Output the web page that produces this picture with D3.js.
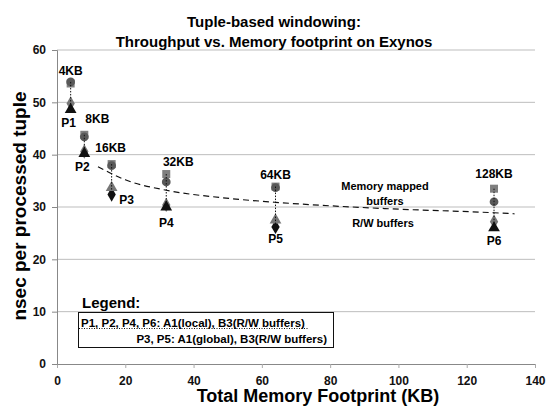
<!DOCTYPE html>
<html><head><meta charset="utf-8">
<script src="https://cdn.jsdelivr.net/npm/d3@7"></script>
<style>body{margin:0;background:#fff;overflow:hidden}text{font-family:Arial,"Liberation Sans",sans-serif;font-weight:bold}</style>
</head><body><svg id="c" width="547" height="406"></svg>
<script>
const footprints = [4, 8, 16, 32, 64, 128];
const sizeLabels = ["4KB", "8KB", "16KB", "32KB", "64KB", "128KB"];
const pointLabels = ["P1", "P2", "P3", "P4", "P5", "P6"];
const mmapSquare = [53.6, 43.8, 38.2, 36.3, 33.9, 33.5];
const mmapCircle = [53.9, 43.4, 37.9, 34.8, 33.7, 31.0];
const rwDiamond = [49.8, 40.6, 32.4, 30.4, 26.2, 27.2];
const rwTriangle = [48.6, 40.2, 33.7, 30.0, 27.5, 26.0];
const isGlobal = [false, false, true, false, true, false];
const trendX = [12, 20, 32, 48, 64, 96, 128, 134];
const trendY = [37.7, 35.2, 33.2, 31.8, 30.9, 29.7, 28.9, 28.7];
const xTicks = [0, 20, 40, 60, 80, 100, 120, 140];
const yTicks = [0, 10, 20, 30, 40, 50, 60];

const svg = d3.select("#c");
const x = d3.scaleLinear().domain([0, 140]).range([57, 535]);
const y = d3.scaleLinear().domain([0, 60]).range([364, 50]);

// gridlines
svg.append("g").selectAll("line").data(yTicks.filter(d => d > 0)).join("line")
  .attr("x1", 57).attr("x2", 535).attr("y1", d => y(d)).attr("y2", d => y(d))
  .attr("stroke", "#bdbdbd").attr("stroke-width", 1);

const xa = svg.append("g").attr("transform", "translate(0,364)")
  .call(d3.axisBottom(x).tickValues(xTicks).tickSize(4).tickPadding(8).tickFormat(d3.format("d")));
xa.select(".domain").attr("stroke", "#888");
xa.selectAll("line").attr("stroke", "#aaa");
xa.selectAll("text").attr("font-size", 12).attr("fill", "#111");

const ya = svg.append("g").attr("transform", "translate(57,0)")
  .call(d3.axisLeft(y).tickValues(yTicks).tickSize(5).tickPadding(6));
ya.select(".domain").attr("stroke", "#888");
ya.selectAll("line").attr("stroke", "#888");
ya.selectAll("text").attr("font-size", 12).attr("fill", "#111");

// title
svg.append("text").attr("x", 274).attr("y", 27).attr("text-anchor", "middle").attr("font-size", 15).text("Tuple-based windowing:");
svg.append("text").attr("x", 274).attr("y", 47).attr("text-anchor", "middle").attr("font-size", 15).text("Throughput vs. Memory footprint on Exynos");

// axis titles
svg.append("text").attr("x", 318).attr("y", 402).attr("text-anchor", "middle").attr("font-size", 18).text("Total Memory Footprint (KB)");
svg.append("text").attr("transform", "translate(26,206) rotate(-90)").attr("text-anchor", "middle").attr("font-size", 19).text("nsec per processed tuple");

// trend line
svg.append("path").datum(trendX.map((d, i) => [d, trendY[i]]))
  .attr("d", d3.line().x(d => x(d[0])).y(d => y(d[1])).curve(d3.curveMonotoneX))
  .attr("fill", "none").attr("stroke", "#111").attr("stroke-width", 1.2).attr("stroke-dasharray", "6,4");

const g = svg.append("g");
const sym = (t, s) => d3.symbol().type(t).size(s)();
footprints.forEach((f, i) => {
  const vals = [mmapSquare[i], mmapCircle[i], rwDiamond[i], rwTriangle[i]];
  const cx = x(f);
  g.append("path").attr("d", sym(d3.symbolSquare, 64)).attr("transform", `translate(${cx},${y(mmapSquare[i])})`).attr("fill", "#7f7f7f");
  g.append("path").attr("d", sym(d3.symbolCircle, 60)).attr("transform", `translate(${cx},${y(mmapCircle[i])})`).attr("fill", "#595959");
  g.append("path").attr("d", sym(d3.symbolDiamond, 60)).attr("transform", `translate(${cx},${y(rwDiamond[i])})`).attr("fill", isGlobal[i] ? "#111" : "#777");
  g.append("path").attr("d", sym(d3.symbolTriangle, 60)).attr("transform", `translate(${cx},${y(rwTriangle[i])})`).attr("fill", isGlobal[i] ? "#777" : "#111");
  g.append("line").attr("x1", cx).attr("x2", cx)
    .attr("y1", y(d3.max(vals))).attr("y2", y(d3.min(vals)))
    .attr("stroke", "#111").attr("stroke-width", 1).attr("stroke-dasharray", "1.5,1.5");
});

// size labels (above) and point labels (below)
const sizeOff = [[0, -11], [13, -16], [-1, -17], [12, -13], [0, -12], [0, -15]];
footprints.forEach((f, i) => {
  const top = d3.max([mmapSquare[i], mmapCircle[i]]);
  svg.append("text").attr("x", x(f) + sizeOff[i][0]).attr("y", y(top) + sizeOff[i][1] + 4.5)
    .attr("text-anchor", "middle").attr("font-size", 12).text(sizeLabels[i]);
});
const pOff = [[-2, 17], [-2, 17], [15, 10], [0, 20], [0, 16], [0, 17]];
footprints.forEach((f, i) => {
  const bot = d3.min([rwDiamond[i], rwTriangle[i]]);
  svg.append("text").attr("x", x(f) + pOff[i][0]).attr("y", y(bot) + pOff[i][1])
    .attr("text-anchor", "middle").attr("font-size", 12).text(pointLabels[i]);
});

// series annotations
svg.append("text").attr("x", 385).attr("y", 190).attr("text-anchor", "middle").attr("font-size", 11).text("Memory mapped");
svg.append("text").attr("x", 385).attr("y", 205).attr("text-anchor", "middle").attr("font-size", 11).text("buffers");
svg.append("text").attr("x", 383).attr("y", 227).attr("text-anchor", "middle").attr("font-size", 11).text("R/W buffers");

// legend
svg.append("text").attr("x", 82).attr("y", 308).attr("font-size", 15).text("Legend:");
svg.append("rect").attr("x", 78.5).attr("y", 312.5).attr("width", 255).attr("height", 35)
  .attr("fill", "#fff").attr("stroke", "#111").attr("stroke-width", 1);
svg.append("text").attr("x", 81).attr("y", 327).attr("font-size", 11.5).text("P1, P2, P4, P6: A1(local), B3(R/W buffers)");
svg.append("line").attr("x1", 79).attr("x2", 308).attr("y1", 328.5).attr("y2", 328.5)
  .attr("stroke", "#111").attr("stroke-dasharray", "1,1.5");
svg.append("text").attr("x", 327).attr("y", 343).attr("text-anchor", "end").attr("font-size", 11.5).text("P3, P5: A1(global), B3(R/W buffers)");
</script></body></html>
